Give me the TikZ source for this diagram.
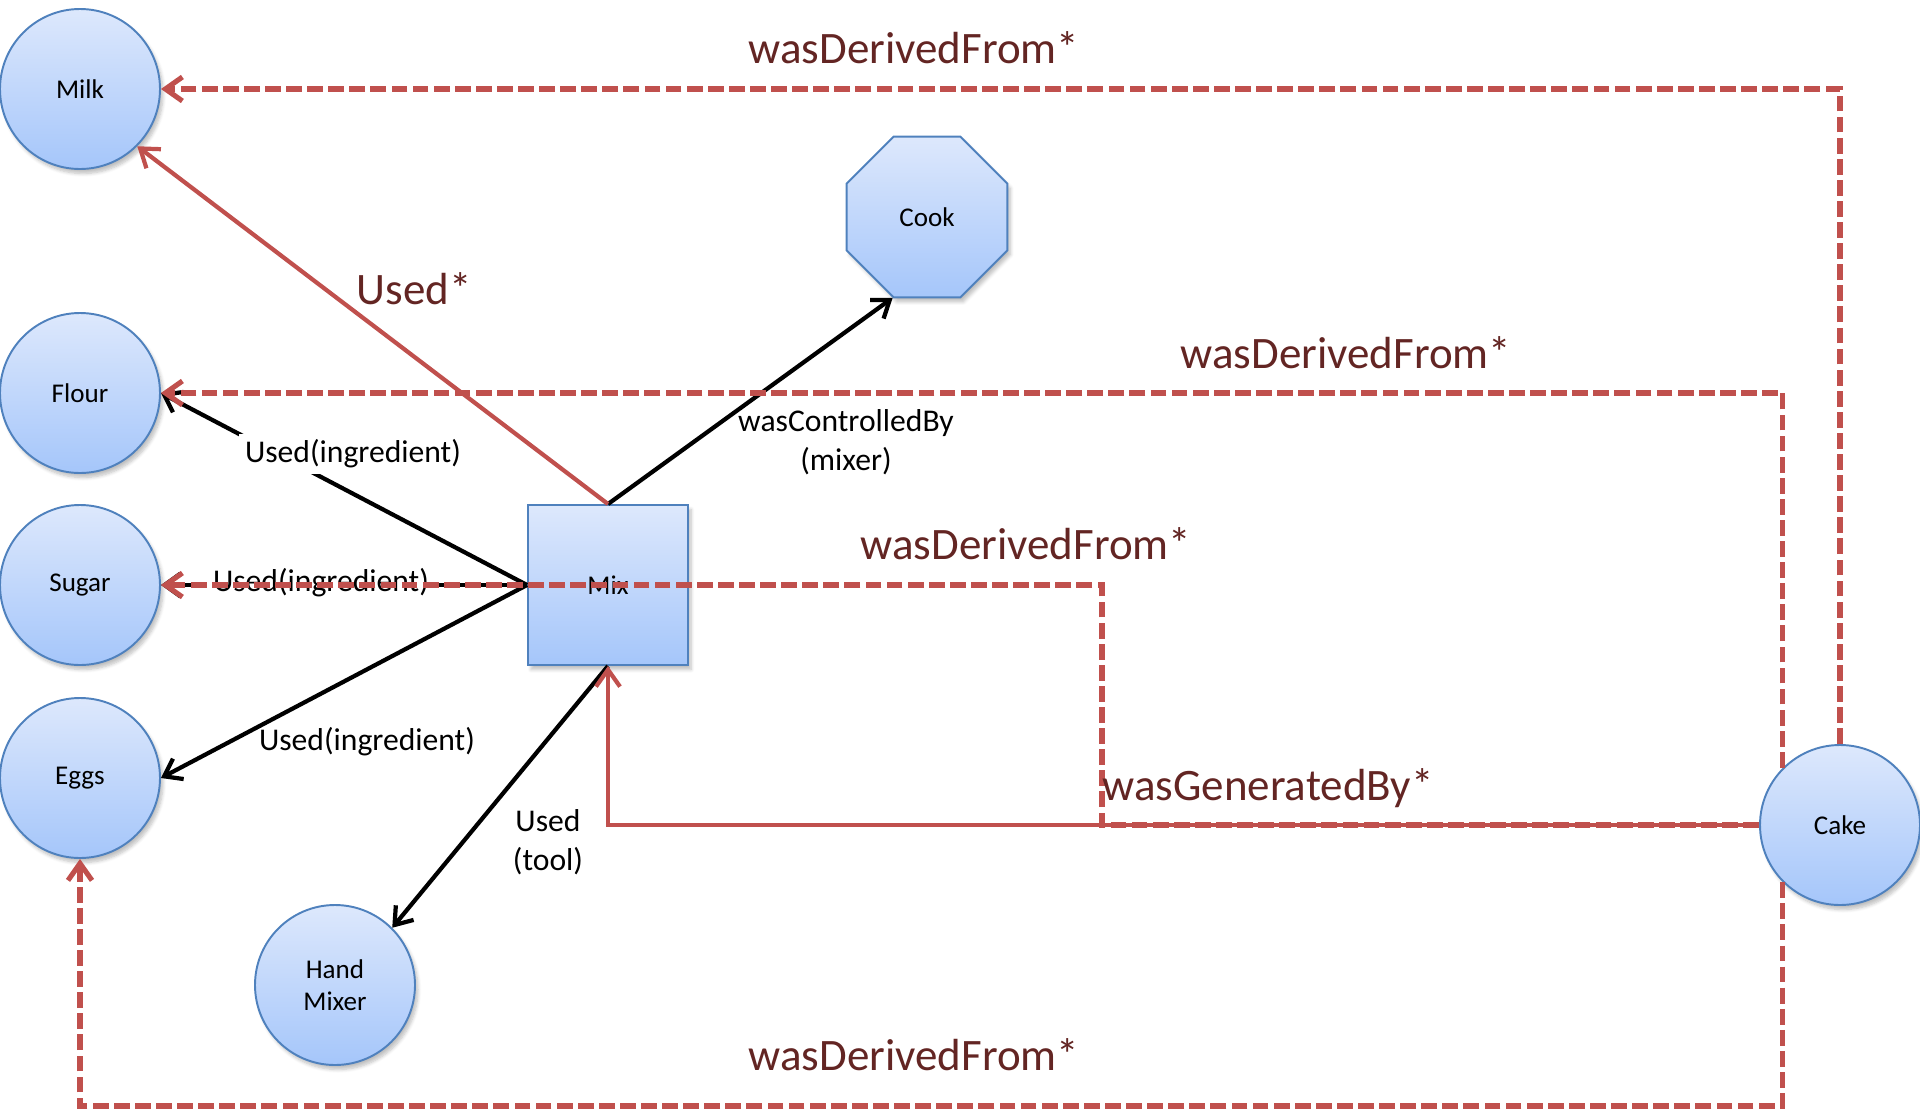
\documentclass[tikz,border=0pt]{standalone}
\usepackage{fontspec}
\setmainfont{Carlito}
\usepackage{xcolor}
\usetikzlibrary{arrows.meta,positioning,shapes.geometric,shadows.blur}

\definecolor{nodeblue}{HTML}{4F81BD}
\definecolor{lightblue}{HTML}{DDE8FC}
\definecolor{midblue}{HTML}{A5C6FA}
\definecolor{provred}{HTML}{C0504D}
\definecolor{labelred}{HTML}{632523}

\begin{document}
\begin{tikzpicture}[x=0.2mm, y=-0.2mm,
    shaded/.style={draw=nodeblue, line width=1.1pt, top color=lightblue, bottom color=midblue,
        inner sep=0pt, align=center, font=\fontsize{15.4}{18.5}\selectfont,
        blur shadow={shadow blur steps=6, shadow xshift=0.6mm, shadow yshift=-0.9mm, shadow opacity=25}},
    entity/.style={shaded, circle, minimum size=3.2cm},
    agent/.style={shaded, regular polygon, regular polygon sides=8, minimum size=3.48cm},
    activity/.style={shaded, rectangle, minimum size=3.2cm},
    rel/.style={draw, line width=2.4pt, -{Straight Barb[length=3.2mm, width=4.6mm]}},
    infer/.style={draw=provred, line width=2.4pt, -{Straight Barb[length=3.4mm, width=4.8mm]}},
    derived/.style={draw=provred, line width=2.9pt, dash pattern=on 9pt off 3pt,
        -{Straight Barb[length=3.4mm, width=4.8mm]}},
    lbl/.style={align=center, font=\fontsize{18}{22}\selectfont},
    big/.style={text=labelred, font=\fontsize{25.6}{30}\selectfont}]
    \useasboundingbox (0,0) rectangle (1920,1111);

    % Entities
    \node [entity] (milk) at (80,89) {Milk};
    \node [entity] (flour) at (80,393) {Flour};
    \node [entity] (sugar) at (80,585) {Sugar};
    \node [entity] (eggs) at (80,778) {Eggs};
    \node [entity] (hand) at (335,985) {Hand\\Mixer};
    \node [entity] (cake) at (1840,825) {Cake};
    \node [agent] (cook) at (927,217) {Cook};
    \node [activity] (mix) at (608,585) {Mix};

    % Used and controlled
    \draw [rel] (mix.west) -- (flour.east);
    \draw [rel] (mix.west) -- (sugar.east);
    \draw [rel] (mix.west) -- (eggs.east);
    \draw [rel] (mix.south) -- (hand.north east);
    \draw [rel] (mix.north) -- (cook.247.5);
    \node [lbl, fill=white] (lflour) at (353,454) {Used(ingredient)};
    \node [lbl, fill=white] (lsugar) at (321,583) {Used(ingredient)};
    \node [lbl] (leggs) at (367,742) {Used(ingredient)};
    \node [lbl] (ltool) at (548,842) {Used\\(tool)};
    \node [lbl] (lctrl) at (846,442) {wasControlledBy\\(mixer)};

    % Inferred edges
    \coordinate (sbend) at (1102,585);
    \coordinate (low) at (80,1106);
    \draw [infer] (mix.north) -- (milk.south east);
    \draw [infer] (cake.west) -| (mix.south);
    \draw [derived] (cake.north) |- (milk.east);
    \draw [derived] (cake.north west) |- (flour.east);
    \draw [derived] (cake.west) -| (sbend) -- (sugar.east);
    \draw [derived] (cake.south west) |- (low) -- (eggs.south);

    \node [big] (lused) at (414,289) {Used*};
    \node [big] (dmilk) at (914,48) {wasDerivedFrom*};
    \node [big] (dflour) at (1346,353) {wasDerivedFrom*};
    \node [big] (dsugar) at (1026,544) {wasDerivedFrom*};
    \node [big] (deggs) at (914,1055) {wasDerivedFrom*};
    \node [big] (lgen) at (1268,788) {wasGeneratedBy*};
\end{tikzpicture}
\end{document}
